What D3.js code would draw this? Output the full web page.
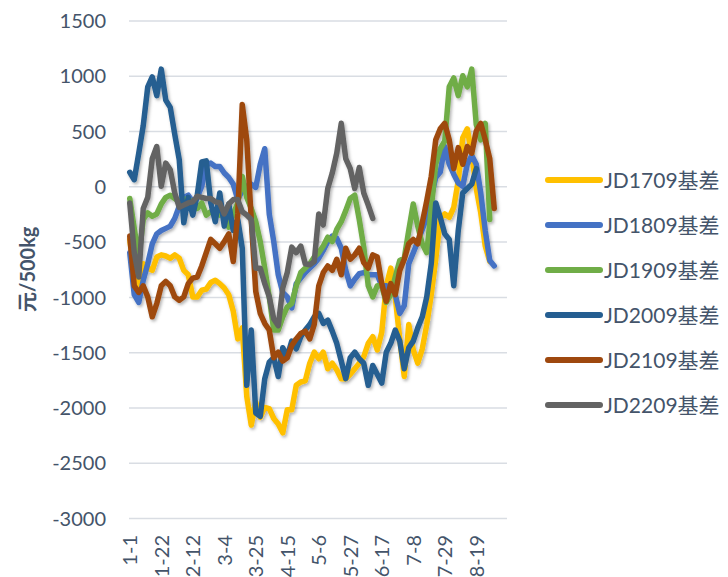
<!DOCTYPE html>
<html>
<head>
<meta charset="utf-8">
<script src="https://cdn.jsdelivr.net/npm/d3@7/dist/d3.min.js"></script>
<style>
  html, body { margin: 0; padding: 0; background: #fff; }
  svg { display: block; }
  text { font-family: Lato, "Noto Sans CJK SC", sans-serif; fill: #44546A; }
</style>
</head>
<body>
<svg id="chart" width="728" height="577"></svg>
<script>
// ---- data ----
// day index (0 = 1-1) of each sample, 3-day grid
const days = [0,3,6,9,12,15,18,21,24,27,30,33,36,39,42,45,48,51,54,57,60,63,66,69,72,75,78,81,84,87,
  90,93,96,99,102,105,108,111,114,117,120,123,126,129,132,135,138,141,144,147,150,153,156,159,162,165,
  168,171,174,177,180,183,186,189,192,195,198,201,204,207,210,213,216,219,222,225,228,231,234,237,240,243];

const tickDays   = [0, 21, 42, 63, 84, 105, 126, 147, 168, 189, 210, 231];
const tickLabels = ["1-1","1-22","2-12","3-4","3-25","4-15","5-6","5-27","6-17","7-8","7-29","8-19"];
const yTicks = [1500, 1000, 500, 0, -500, -1000, -1500, -2000, -2500, -3000];

const seriesNames = ["JD1709基差","JD1809基差","JD1909基差","JD2009基差","JD2109基差","JD2209基差"];
const seriesColors = ["#FFC000","#4472C4","#70AD47","#255E91","#9E480E","#636363"];

const jd1709 = [-480,-800,-900,-700,-740,-760,-640,-620,-630,-650,-620,-650,-760,-800,-1000,-1000,-940,-930,-870,-850,
  -880,-920,-980,-1130,-1380,-1280,-1900,-2160,-1950,-2090,-2000,-2010,-2100,-2150,-2230,-2020,-2020,-1800,-1770,-1760,
  -1600,-1500,-1560,-1500,-1650,-1600,-1660,-1740,-1740,-1700,-1650,-1600,-1540,-1420,-1360,-1480,-1320,-900,-740,-1000,
  -1380,-1720,-1250,-1480,-1600,-1470,-1250,-980,-660,-290,-250,-280,-190,50,440,520,290,-20,-240,-540,-680,null];

const jd1809 = [-600,-980,-1050,-850,-700,-520,-430,-400,-380,-360,-290,-180,-100,-80,-140,-100,0,200,210,180,
  180,120,80,20,-120,-40,0,20,-10,200,340,-250,-500,-800,-960,-1000,-1100,-880,-830,-780,
  -740,-700,-650,-580,-500,-450,-470,-560,-760,-900,-840,-790,-780,-800,-800,-800,-900,-900,-950,-980,
  -1150,-1080,-700,-600,-500,-390,-280,-100,80,130,360,200,110,30,0,200,280,200,-60,-400,-670,-720];

const jd1909 = [-110,-380,-650,-300,-240,-270,-250,-160,-100,-80,-110,-140,-120,-110,-150,-200,-150,-260,-230,-220,
  -260,-240,-370,-250,-150,90,-100,-200,-320,-500,-740,-1000,-1300,-1300,-1180,-1090,-1060,-900,-780,-740,
  -700,-640,-600,-540,-460,-500,-390,-320,-220,-110,-80,-300,-550,-900,-1000,-900,-900,-1050,-980,-820,
  -670,-650,-400,-160,-360,-520,-600,-200,200,340,410,900,980,820,1000,900,1060,560,420,570,-300,null];

const jd2009 = [127,60,300,550,900,990,820,1060,780,714,470,240,-330,-100,-260,-80,220,230,-150,-320,
  -60,-360,-160,-400,-300,-560,-1800,-1300,-2050,-2080,-1740,-1590,-1550,-1720,-1460,-1540,-1400,-1470,-1360,-1300,
  -1250,-1180,-1150,-1240,-1210,-1310,-1420,-1580,-1740,-1550,-1500,-1560,-1600,-1800,-1620,-1700,-1780,-1500,-1420,-1300,
  -1400,-1650,-1460,-1400,-1280,-1180,-1000,-700,-150,-280,-430,-480,-900,-400,-60,-20,20,160,null,null,null,null];

const jd2109 = [-450,-900,-960,-900,-1000,-1180,-1060,-900,-860,-900,-1000,-1030,-1000,-880,-830,-820,-720,-600,-480,-520,
  -560,-500,-430,-680,-250,740,420,-300,-950,-1150,-1240,-1300,-1550,-1500,-1580,-1550,-1440,-1380,-1330,-1310,
  -1380,-1250,-900,-780,-720,-760,-660,-800,-560,-660,-620,-560,-690,-740,-620,-640,-880,-1040,-880,-980,
  -760,-660,-520,-480,-520,-330,-130,90,420,520,570,420,160,350,200,360,300,500,570,420,250,-200];

const jd2209 = [-150,-600,-820,-200,-100,250,360,0,210,150,-60,-190,-170,-150,-140,-90,-100,-110,-110,-140,
  -150,-250,-160,-120,-120,-230,-260,-300,-740,-740,-880,-1000,-1200,-1260,-920,-780,-550,-600,-540,-700,
  -710,-680,-250,-350,-20,120,300,570,250,160,-20,170,-60,-170,-290,null,null,null,null,null,
  null,null,null,null,null,null,null,null,null,null,null,null,null,null,null,null,null,null,null,null,null,null];

const seriesValues = [jd1709, jd1809, jd1909, jd2009, jd2109, jd2209];

// ---- layout ----
const svg = d3.select("#chart");
const plot = { left: 129, right: 507, top: 20.5, bottom: 518 };

const x = d3.scaleLinear().domain([-0.5, 251.5]).range([plot.left, plot.right]);
const y = d3.scaleLinear().domain([-3000, 1500]).range([plot.bottom, plot.top]);

const defs = svg.append("defs");
const f = defs.append("filter").attr("id", "shadow")
  .attr("x", "-10%").attr("y", "-10%").attr("width", "120%").attr("height", "120%");
f.append("feDropShadow").attr("dx", 1.5).attr("dy", 2).attr("stdDeviation", 1.4)
  .attr("flood-color", "#000").attr("flood-opacity", 0.3);

// gridlines
const yAxis = d3.axisLeft(y).tickValues(yTicks).tickSize(-(plot.right - plot.left)).tickFormat(d => d);
const gy = svg.append("g").attr("transform", `translate(${plot.left},0)`).call(yAxis);
gy.select(".domain").remove();
gy.selectAll(".tick line").attr("stroke", "#D9DDE3").attr("stroke-width", 1.5);
gy.selectAll(".tick text").attr("x", -23).attr("dy", "0.36em")
  .style("font-size", "20px").style("fill", "#44546A").style("font-family", "Lato, sans-serif");

// x axis labels
const xAxis = d3.axisBottom(x).tickValues(tickDays).tickSize(0)
  .tickFormat((d, i) => tickLabels[i]);
const gx = svg.append("g").attr("transform", `translate(0,${plot.bottom})`).call(xAxis);
gx.select(".domain").remove();
gx.selectAll(".tick text")
  .attr("transform", "rotate(-90)")
  .attr("x", -17).attr("y", 0).attr("dy", "0.36em")
  .attr("text-anchor", "end")
  .style("font-size", "20px").style("fill", "#44546A").style("font-family", "Lato, sans-serif");

// y axis title
svg.append("text")
  .attr("transform", `translate(35,${(plot.top + plot.bottom) / 2}) rotate(-90)`)
  .attr("text-anchor", "middle")
  .style("font-size", "20px").style("font-weight", "bold")
  .text("元/500kg");

// lines
const line = d3.line()
  .defined(d => d.v !== null)
  .x(d => x(d.day))
  .y(d => y(d.v));

const gLines = svg.append("g").attr("filter", "url(#shadow)");
seriesValues.forEach((vals, i) => {
  const pts = days.map((d, j) => ({ day: d, v: vals[j] === undefined ? null : vals[j] }));
  gLines.append("path")
    .datum(pts)
    .attr("d", line)
    .attr("fill", "none")
    .attr("stroke", seriesColors[i])
    .attr("stroke-width", 5.5)
    .attr("stroke-linejoin", "round")
    .attr("stroke-linecap", "round");
});

// legend
const legend = svg.append("g");
seriesNames.forEach((name, i) => {
  const yy = 180 + i * 45;
  legend.append("line")
    .attr("x1", 548).attr("x2", 600).attr("y1", yy).attr("y2", yy)
    .attr("stroke", seriesColors[i]).attr("stroke-width", 6).attr("stroke-linecap", "round");
  legend.append("text")
    .attr("x", 604).attr("y", yy).attr("dy", "0.36em")
    .style("font-size", "21px")
    .text(name);
});
</script>
</body>
</html>
